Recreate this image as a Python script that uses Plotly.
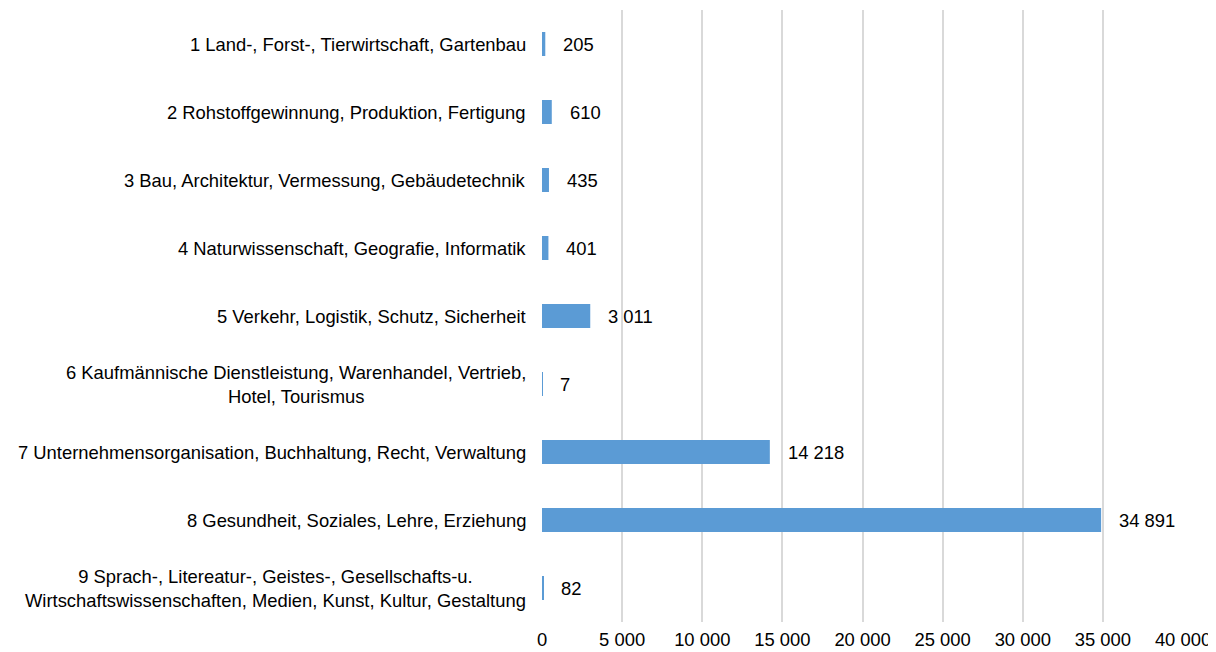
import plotly.graph_objects as go

categories = [
    "1 Land-, Forst-, Tierwirtschaft, Gartenbau",
    "2 Rohstoffgewinnung, Produktion, Fertigung",
    "3 Bau, Architektur, Vermessung, Gebäudetechnik",
    "4 Naturwissenschaft, Geografie, Informatik",
    "5 Verkehr, Logistik, Schutz, Sicherheit",
    "6 Kaufmännische Dienstleistung, Warenhandel, Vertrieb,<br>Hotel, Tourismus",
    "7 Unternehmensorganisation, Buchhaltung, Recht, Verwaltung",
    "8 Gesundheit, Soziales, Lehre, Erziehung",
    "9 Sprach-, Litereatur-, Geistes-, Gesellschafts-u.<br>Wirtschaftswissenschaften, Medien, Kunst, Kultur, Gestaltung",
]
values = [205, 610, 435, 401, 3011, 7, 14218, 34891, 82]
x_ticks = [0, 5000, 10000, 15000, 20000, 25000, 30000, 35000, 40000]


def fmt(v):
    return f"{v:,}".replace(",", " ")


font = dict(family="Liberation Sans, Arial, sans-serif", size=18.4, color="#000000")

fig = go.Figure()
fig.add_trace(go.Bar(
    y=categories, x=values, orientation="h",
    marker=dict(color="#5B9BD5", line=dict(width=0)),
    hoverinfo="x+y",
))

for c, v in zip(categories, values):
    fig.add_annotation(x=v, y=c, text=fmt(v), showarrow=False,
                       xanchor="left", xshift=16, font=font)
    fig.add_annotation(x=0, xref="paper", y=c, text=c, showarrow=False,
                       xanchor="right", xshift=-14, align="center", font=font)

# page body has an 8px default margin, so the figure sits at (8, 8)
fig.update_layout(
    width=1208, height=644,
    margin=dict(l=534, r=33, t=2, b=30, autoexpand=False),
    paper_bgcolor="white", plot_bgcolor="white",
    bargap=0.647,
    showlegend=False,
    font=font,
)
fig.update_xaxes(
    range=[0, 40000], tickvals=x_ticks, ticktext=[fmt(t) for t in x_ticks],
    showgrid=True, gridcolor="#D9D9D9", gridwidth=2,
    zeroline=False, showline=False, automargin=False,
    ticks="outside", ticklen=1, tickcolor="rgba(0,0,0,0)",
    tickfont=font, fixedrange=True,
)
fig.update_yaxes(
    autorange="reversed", showticklabels=False, showgrid=False,
    zeroline=False, showline=False, ticks="", automargin=False,
)

fig.write_html("out.html")
